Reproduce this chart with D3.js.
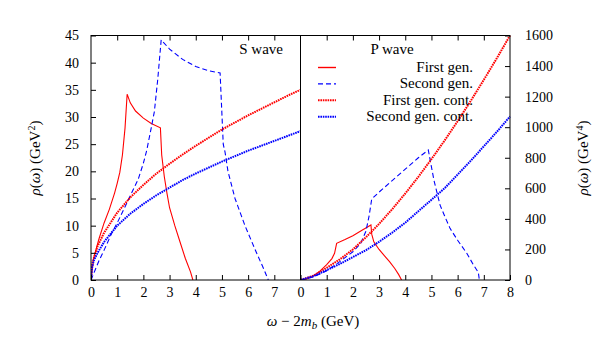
<!DOCTYPE html>
<html>
<head>
<meta charset="utf-8">
<script src="https://cdn.jsdelivr.net/npm/d3@7"></script>
<style>
  body { margin: 0; background: #fff; }
  text { font-family: "Liberation Serif", "DejaVu Serif", serif; fill: #000; }
</style>
</head>
<body>
<div id="chart"></div>
<script>
// S wave (left panel, GeV^2)
var sFirst = [[0,0],[0.1,4],[0.3,7.5],[0.5,10.5],[0.7,13],[0.9,16],[1.0,17.8],[1.1,19.8],[1.2,23],[1.3,28],[1.38,34.2],
  [1.5,32.6],[1.7,31.1],[2.0,29.8],[2.3,28.8],[2.65,28],[2.7,23],[2.8,19],[2.9,16],[3.0,13.3],[3.2,10],[3.4,7],[3.6,4],[3.8,1.5],[3.89,0]];
var sSecond = [[0,0],[0.3,3.5],[0.5,5.5],[0.8,8.7],[1.0,10.5],[1.3,13.5],[1.6,16.5],[1.8,18.5],[2.0,21.5],[2.13,23.9],[2.3,28],[2.42,31],[2.55,37],[2.68,44.2],
  [3.0,42.5],[3.5,40.6],[4.0,39.3],[4.5,38.5],[4.93,38.1],[5.05,25],[5.12,23.5],[5.23,20],[5.5,15],[5.88,10],[6.32,5],[6.6,2],[6.77,0]];
var sFirstCont = [[0,0],[0.02,2],[0.05,2.9],[0.1,3.9],[0.25,6.2],[0.5,8.7],[1,12.4],[1.5,15.2],[2,17.5],[2.5,19.6],[3,21.4],[3.5,23.1],[4,24.7],
  [4.5,26.2],[5,27.7],[5.5,29.0],[6,30.3],[6.5,31.5],[7,32.7],[7.5,33.9],[8,35.0]];
var sSecondCont = [[0,0],[0.02,1.4],[0.05,2.5],[0.1,3.5],[0.25,5],[0.5,7],[1,10],[1.5,12.2],[2,14],[2.5,15.6],[3,17],[3.5,18.4],[4,19.6],
  [4.5,20.7],[5,21.8],[5.5,22.8],[6,23.8],[6.5,24.7],[7,25.6],[7.5,26.5],[8,27.4]];

// P wave (right panel, GeV^4)
var pFirst = [[0,0],[0.25,8],[0.5,28],[0.75,60],[1.0,100],[1.2,140],[1.3,175],[1.38,240],[1.7,265],[2.0,290],[2.3,320],[2.69,360],
  [2.72,300],[2.8,250],[3.0,200],[3.2,160],[3.4,120],[3.6,75],[3.75,35],[3.86,0]];
var pSecond = [[0,0],[0.5,20],[1.0,60],[1.5,120],[2.0,185],[2.3,240],[2.5,320],[2.62,420],[2.72,530],[3.0,575],[3.5,650],[4.0,725],[4.5,800],[4.88,851],
  [5.0,740],[5.1,650],[5.33,490],[5.5,420],[5.71,338],[6.0,260],[6.35,175],[6.6,100],[6.79,50],[6.83,0]];
var pFirstCont = [[0,0],[0.5,28],[1,80],[1.5,135],[2,200],[2.5,280],[3,367],[3.5,463],[4,566],[4.5,675],[5,791],[5.5,912],[6,1039],[6.5,1172],[7,1310],[7.5,1452],[8,1600]];
var pSecondCont = [[0,0],[0.5,25],[1,65],[1.5,105],[2,150],[2.5,195],[3,250],[3.5,310],[4,375],[4.5,450],[5,525],[5.5,600],[6,690],[6.5,780],[7,875],[7.5,970],[8,1070]];

var legendNames = ["First gen.", "Second gen.", "First gen. cont.", "Second gen. cont."];
var leftTicks = [0,5,10,15,20,25,30,35,40,45];
var rightTicks = [0,200,400,600,800,1000,1200,1400,1600];
var xTicksLeft = [0,1,2,3,4,5,6,7];
var xTicksRight = [0,1,2,3,4,5,6,7,8];

var svgWidth = 600, svgHeight = 350;
var plotTop = 35.5, plotBottom = 280, plotLeft = 91, plotMid = 300.5, plotRight = 510;

var svg = d3.select("#chart").append("svg")
    .attr("width", svgWidth)
    .attr("height", svgHeight);

var xL = d3.scaleLinear().domain([0,8]).range([plotLeft, plotMid]);
var xR = d3.scaleLinear().domain([0,8]).range([plotMid, plotRight]);
var yL = d3.scaleLinear().domain([0,45]).range([plotBottom, plotTop]);
var yR = d3.scaleLinear().domain([0,1600]).range([plotBottom, plotTop]);

var styles = [
  {color: "#ff0000", width: 1.1, dash: null},
  {color: "#0000ff", width: 1.1, dash: "5,3"},
  {color: "#ff0000", width: 2, dash: "1.6,0.8"},
  {color: "#0000ff", width: 2, dash: "1.6,0.8"}
];

function drawLines(data, x, y, clipId) {
  data.forEach(function(d, i) {
    var line = d3.line().x(p => x(p[0])).y(p => y(p[1]));
    svg.append("path")
      .datum(d)
      .attr("clip-path", "url(#" + clipId + ")")
      .attr("d", line)
      .attr("fill", "none")
      .attr("stroke", styles[i].color)
      .attr("stroke-width", styles[i].width)
      .attr("stroke-dasharray", styles[i].dash);
  });
}

var defs = svg.append("defs");
defs.append("clipPath").attr("id", "clipL").append("rect")
  .attr("x", plotLeft).attr("y", plotTop - 2).attr("width", plotMid - plotLeft).attr("height", plotBottom - plotTop + 2);
defs.append("clipPath").attr("id", "clipR").append("rect")
  .attr("x", plotMid).attr("y", plotTop - 2).attr("width", plotRight - plotMid + 2).attr("height", plotBottom - plotTop + 2);

drawLines([sFirst, sSecond, sFirstCont, sSecondCont], xL, yL, "clipL");
drawLines([pFirst, pSecond, pFirstCont, pSecondCont], xR, yR, "clipR");

// axes
function styleAxis(g) {
  g.attr("font-family", null);
  g.select(".domain").remove();
  g.selectAll("line").attr("stroke", "#000");
  g.selectAll("text").style("font-size", "14px");
}

svg.append("g").attr("transform", `translate(0,${plotBottom})`)
  .call(d3.axisBottom(xL).tickValues(xTicksLeft).tickSize(-5).tickPadding(7).tickFormat(d3.format("d")))
  .call(styleAxis);
svg.append("g").attr("transform", `translate(0,${plotBottom})`)
  .call(d3.axisBottom(xR).tickValues(xTicksRight).tickSize(-5).tickPadding(7).tickFormat(d3.format("d")))
  .call(styleAxis);
svg.append("g").attr("transform", `translate(0,${plotTop})`)
  .call(d3.axisTop(xL).tickValues(xTicksLeft.slice(1)).tickSize(-5).tickFormat(""))
  .call(styleAxis);
svg.append("g").attr("transform", `translate(0,${plotTop})`)
  .call(d3.axisTop(xR).tickValues(xTicksRight.slice(1, 8)).tickSize(-5).tickFormat(""))
  .call(styleAxis);
svg.append("g").attr("transform", `translate(${plotLeft},0)`)
  .call(d3.axisLeft(yL).tickValues(leftTicks).tickSize(-5).tickPadding(12).tickFormat(d3.format("d")))
  .call(styleAxis);
svg.append("g").attr("transform", `translate(${plotRight},0)`)
  .call(d3.axisRight(yR).tickValues(rightTicks).tickSize(-5).tickPadding(15).tickFormat(d3.format("d")))
  .call(styleAxis);

// frame
svg.append("rect")
  .attr("x", plotLeft).attr("y", plotTop)
  .attr("width", plotRight - plotLeft).attr("height", plotBottom - plotTop)
  .attr("fill", "none").attr("stroke", "#000").attr("stroke-width", 1);
svg.append("line")
  .attr("x1", plotMid).attr("x2", plotMid).attr("y1", plotTop).attr("y2", plotBottom)
  .attr("stroke", "#000").attr("stroke-width", 1);

// panel titles
svg.append("text").attr("x", 283).attr("y", 54).attr("text-anchor", "end")
  .style("font-size", "15px").text("S wave");
svg.append("text").attr("x", 392).attr("y", 54).attr("text-anchor", "middle")
  .style("font-size", "15px").text("P wave");

// legend
legendNames.forEach(function(name, i) {
  var yy = 67.5 + i * 16.4;
  svg.append("line")
    .attr("x1", 318).attr("x2", 336).attr("y1", yy).attr("y2", yy)
    .style("stroke", styles[i].color)
    .attr("stroke-width", i == 0 ? 1.4 : styles[i].width)
    .attr("stroke-dasharray", styles[i].dash);
  svg.append("text").attr("x", 473).attr("y", yy + 4.5).attr("text-anchor", "end")
    .style("font-size", "15px").text(name);
});

// axis labels
var xl = svg.append("text").attr("x", 313).attr("y", 326).attr("text-anchor", "middle").style("font-size", "15px");
xl.append("tspan").style("font-style", "italic").text("ω");
xl.append("tspan").text(" − 2");
xl.append("tspan").style("font-style", "italic").text("m");
xl.append("tspan").attr("dy", 3).style("font-size", "11px").style("font-style", "italic").text("b");
xl.append("tspan").attr("dy", -3).text(" (GeV)");

function yLabel(x, sup) {
  var t = svg.append("text")
    .attr("transform", `translate(${x},158)rotate(-90)`)
    .attr("text-anchor", "middle").style("font-size", "15px");
  t.append("tspan").style("font-style", "italic").text("ρ");
  t.append("tspan").text("(");
  t.append("tspan").style("font-style", "italic").text("ω");
  t.append("tspan").text(") (GeV");
  t.append("tspan").attr("dy", -5).style("font-size", "10px").text(sup);
  t.append("tspan").attr("dy", 5).text(")");
}
yLabel(40, "2");
yLabel(588, "4");
</script>
</body>
</html>
